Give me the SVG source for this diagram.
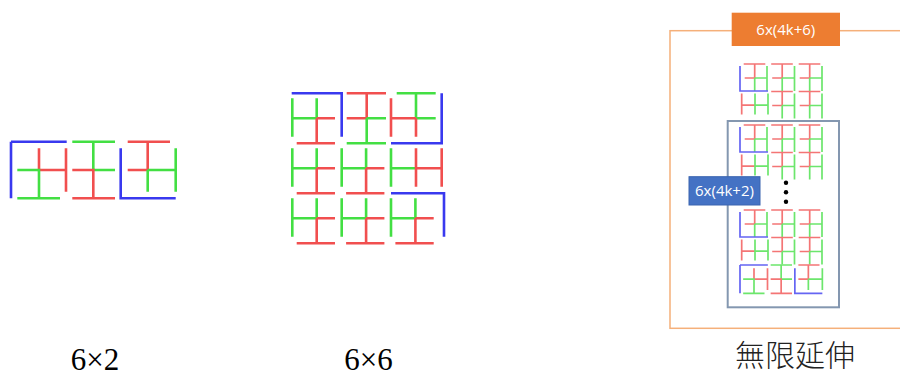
<svg xmlns="http://www.w3.org/2000/svg" xmlns:xlink="http://www.w3.org/1999/xlink" width="900" height="376" viewBox="0 0 900 376">
<style>
  .r{stroke:#f03c3c;fill:none;stroke-linecap:butt}
  .g{stroke:#2fdc2f;fill:none;stroke-linecap:butt}
  .b{stroke:#2424ee;fill:none;stroke-linecap:butt}
  .big{stroke-width:2.6;opacity:0.9}
  .mini{stroke-width:1.7;opacity:0.7}
  .cap{font-family:"Liberation Serif","Times New Roman",serif;font-size:31px;fill:#000}
  .lbl{font-family:"Open Sans","Liberation Sans",sans-serif;font-size:15px;fill:#fff}
</style>
<defs>
  <g id="f62">
    <path class="b" d="M11,141.7 H66.7 M11,141.7 V198.3"/>
    <path class="r" d="M39,148.3 V170 H66.7 M66,148.3 V191.7"/>
    <path class="g" d="M17.3,170 H39 V198.3 M17.3,198.3 H60"/>
    <path class="g" d="M72.3,141.7 H115 M93.3,141.7 V170 H115"/>
    <path class="r" d="M72.3,170 H93.3 V198.3 M72.3,198.3 H115"/>
    <path class="r" d="M127.7,141.7 H170 M147.7,141.7 V170 H127.7"/>
    <path class="g" d="M147.7,170 V191.7 M147.7,170 H175.7 M175.7,148.3 V191.7"/>
    <path class="b" d="M120.7,148.3 V198.3 H175.7"/>
  </g>
  <g id="P">
    <path class="g" d="M0,0 V38.4 M24.4,0 V20 H0"/>
    <path class="r" d="M24.4,20 V45 M24.4,20 H42.7 M4.4,45 H42.7"/>
  </g>
  <g id="mT">
    <path class="r" d="M3.7,0 H25.3 M14.7,0 V14 H4.7"/>
    <path class="g" d="M14.7,14 V27 M14.7,14 H27 M27,2 V27"/>
  </g>
  <g id="mTb">
    <use href="#mT"/>
    <path class="b" d="M0,2 V27 H28"/>
  </g>
  <g id="mH">
    <path class="r" d="M1.7,2 V23 M1.7,13.7 H15"/>
    <path class="g" d="M15,2 V23 M15,13.7 H28 M28,2 V23"/>
  </g>
  <g id="blk">
    <use href="#mTb" x="740" y="0"/>
    <use href="#mT" x="767.5" y="0"/>
    <use href="#mT" x="795" y="0"/>
    <use href="#mH" x="740" y="27.5"/>
    <use href="#mT" x="767.5" y="27.5"/>
    <use href="#mT" x="795" y="27.5"/>
  </g>
</defs>

<g id="fig-6x2" class="big">
  <use href="#f62"/>
</g>

<g id="fig-6x6" class="big">
  <path class="b" d="M291.7,93.3 H341.7 V136.7"/>
  <use href="#P" x="292.3" y="98.3"/>
  <path class="r" d="M346.7,93.3 H386 M366.7,93.3 V118.3 H346.7"/>
  <path class="g" d="M366.7,118.3 V143.3 M366.7,118.3 H386 M346.7,143.3 H386"/>
  <path class="g" d="M396.7,93.3 H435.7 M416,93.3 V118.3 H435.7"/>
  <path class="r" d="M416,118.3 V136.7 M391,118.3 H416 M391,98.3 V136.7"/>
  <path class="b" d="M441.7,93.3 V143.3 H391"/>
  <use href="#P" x="292.3" y="148.3"/>
  <use href="#P" x="341.7" y="148.3"/>
  <path class="g" d="M391,148.3 V186.7 M391,168.3 H416"/>
  <path class="r" d="M416,148.3 V186.7 M416,168.3 H441.7 M441.7,148.3 V186.7"/>
  <use href="#P" x="292.3" y="198.3"/>
  <use href="#P" x="341.7" y="198.3"/>
  <use href="#P" x="391" y="198.3"/>
  <path class="b" d="M391,193.3 H444 V236.7"/>
</g>

<g id="fig-infinite">
  <rect x="670" y="30.7" width="250" height="297.6" fill="none" stroke="#f5b07a" stroke-width="1.5"/>
  <g id="label-4k6">
    <rect x="731.7" y="12.7" width="108.3" height="33.3" fill="#ed7d31"/>
    <text class="lbl" x="785.8" y="34.8" text-anchor="middle">6x(4k+6)</text>
  </g>
  <g id="block-top" class="mini">
    <use href="#blk" y="64"/>
  </g>
  <rect id="inner" x="727.7" y="121" width="111.3" height="186.3" fill="none" stroke="#8497b0" stroke-width="2"/>
  <g id="block-mid" class="mini">
    <use href="#blk" y="125"/>
  </g>
  <g id="block-bottom" class="mini">
    <use href="#blk" y="210"/>
    <use href="#f62" transform="translate(740,265) scale(0.5) translate(-11,-141.7)" style="stroke-width:3.4"/>
  </g>
  <g id="dots" fill="#000">
    <circle cx="786" cy="182.7" r="2.2"/>
    <circle cx="786" cy="192.3" r="2.2"/>
    <circle cx="786" cy="201.7" r="2.2"/>
  </g>
  <g id="label-4k2">
    <rect x="689" y="176.7" width="71" height="28.3" fill="#4472c4" stroke="#3a64b0" stroke-width="1"/>
    <text class="lbl" x="724.5" y="196.3" text-anchor="middle">6x(4k+2)</text>
  </g>
</g>

<g id="captions">
  <text class="cap" x="95" y="370" text-anchor="middle">6×2</text>
  <text class="cap" x="368.5" y="370" text-anchor="middle">6×6</text>
  <text x="795" y="366" text-anchor="middle" font-family="'Noto Sans CJK TC','Noto Sans CJK SC',sans-serif" font-size="30" font-weight="300" fill="#222">無限延伸</text>
</g>
</svg>
